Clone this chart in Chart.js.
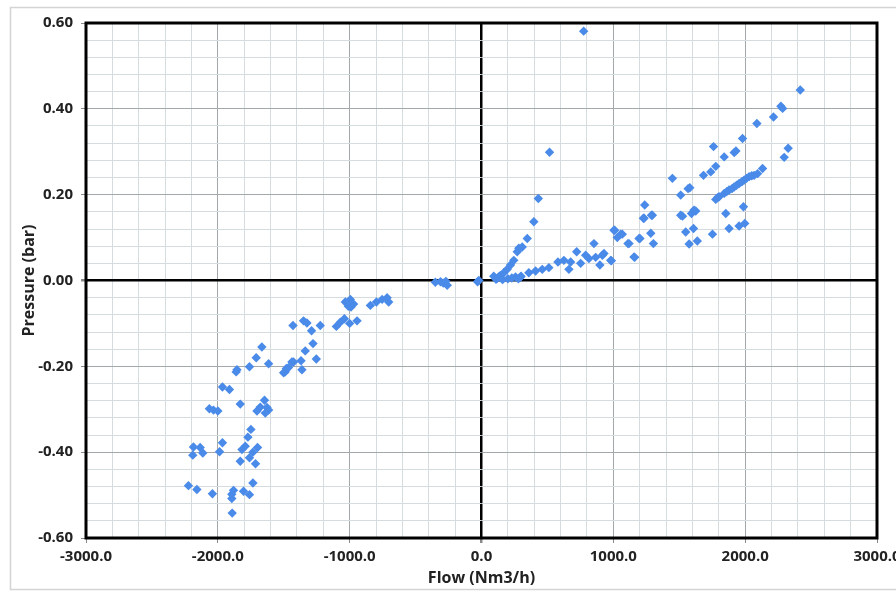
<!DOCTYPE html>
<html><head><meta charset="utf-8">
<script src="https://cdn.jsdelivr.net/npm/chart.js@4/dist/chart.umd.min.js"></script>
<style>html,body{margin:0;padding:0;background:#fff}#wrap{width:896px;height:592px;position:relative}</style>
</head><body><div id="wrap"><canvas id="c" width="896" height="592"></canvas></div>
<script>
// Flow (Nm3/h) values
const flowValues = [
 -1666,-1709,-1615,-1760,-1855,-1861,-1965,-1912,-1830,-1646,-1678,-1627,-1703,-1615,-1640,-2064,-2033,-2000,-1749,-1772,-1965,-1792,-1817,-1699,-1734,-1987,-2185,-2134,-2190,-2114,-1760,-1830,-1714,-1734,-2223,-2159,-2041,-1881,-1894,-1805,-1760,-1894,-1891,
 -1501,-1464,-1426,-1362,-1369,-1337,-1278,-1253,-1430,-1350,-1324,-1289,-1223,-1101,-1071,-1040,-1000,-944,-1033,-995,-970,-990,-843,-797,-754,-716,-704,-1438,-1489,-1480,-1010,-1015,
 -350,-311,-290,-260,-270,-30,-20,
 93,119,144,169,195,220,245,271,283,309,347,397,431,258,296,359,410,461,511,580,625,663,676,722,752,790,815,853,866,898,929,985,1010,1030,1068,1119,1162,1195,1238,1233,1296,1284,1304,516,775,
 110,130,160,200,230,280,300,
 2418,2271,2284,2215,2089,1980,1760,1841,1917,1930,1777,1739,1684,2326,2296,2132,2094,
 1777,1802,1841,1878,1916,1954,1992,2030,2068,1790,1860,1900,1935,1975,2010,2050,
 1448,1511,1567,1580,1612,1625,1593,1511,1525,1228,1289,1853,1987,1608,1549,1575,1637,1752,1878,1954,1997,1202,1005,1056,1111,1157,980,917
];
// Pressure (bar) values
const pressureValues = [
 -0.155,-0.180,-0.194,-0.201,-0.208,-0.213,-0.248,-0.254,-0.288,-0.279,-0.295,-0.296,-0.304,-0.302,-0.309,-0.299,-0.302,-0.304,-0.347,-0.365,-0.378,-0.386,-0.394,-0.389,-0.400,-0.399,-0.388,-0.389,-0.407,-0.402,-0.413,-0.421,-0.427,-0.472,-0.478,-0.487,-0.497,-0.489,-0.498,-0.491,-0.499,-0.508,-0.542,
 -0.215,-0.203,-0.190,-0.208,-0.187,-0.164,-0.147,-0.183,-0.105,-0.094,-0.099,-0.117,-0.105,-0.107,-0.097,-0.089,-0.100,-0.094,-0.050,-0.044,-0.055,-0.062,-0.058,-0.050,-0.044,-0.040,-0.050,-0.190,-0.213,-0.205,-0.060,-0.052,
 -0.004,-0.003,-0.006,-0.011,-0.002,-0.003,0.000,
 0.010,0.005,0.012,0.018,0.026,0.036,0.047,0.067,0.075,0.078,0.098,0.137,0.191,0.008,0.008,0.018,0.022,0.026,0.030,0.043,0.047,0.026,0.043,0.067,0.040,0.059,0.051,0.086,0.054,0.036,0.063,0.046,0.117,0.100,0.108,0.086,0.054,0.098,0.176,0.145,0.152,0.110,0.086,0.299,0.581,
 0.003,0.008,0.002,0.004,0.006,0.004,0.010,
 0.444,0.406,0.401,0.381,0.366,0.331,0.312,0.288,0.298,0.302,0.266,0.253,0.245,0.308,0.287,0.261,0.249,
 0.189,0.195,0.203,0.211,0.218,0.226,0.234,0.242,0.245,0.193,0.207,0.214,0.222,0.230,0.238,0.244,
 0.238,0.199,0.214,0.216,0.164,0.162,0.156,0.152,0.150,0.145,0.152,0.156,0.172,0.121,0.113,0.085,0.092,0.108,0.121,0.127,0.133,0.098,0.117,0.108,0.086,0.055,0.047,0.059
];
const xTickLabels = ['-3000.0','-2000.0','-1000.0','0.0','1000.0','2000.0','3000.0'];
const yTickLabels = ['-0.60','-0.40','-0.20','0.00','0.20','0.40','0.60'];
const xTitle = 'Flow (Nm3/h)';
const yTitle = 'Pressure (bar)';

const points = flowValues.map((x,i)=>({x:x, y:pressureValues[i]}));
const FONT = "'Open Sans', 'Liberation Sans', sans-serif";

function isMajor(v, step){ const r=v/step; return Math.abs(r-Math.round(r))<1e-6; }
function isZero(v){ return Math.abs(v)<1e-9; }

const frame = {
  id:'frame',
  beforeDraw(chart){
    const ctx=chart.ctx; ctx.save();
    ctx.fillStyle='#fff'; ctx.fillRect(0,0,chart.width,chart.height);
    ctx.strokeStyle='#d4d4d4'; ctx.lineWidth=1.5;
    ctx.strokeRect(10.5,7.5,900,582);
    ctx.restore();
  },
  afterDatasetsDraw(chart){
    const a=chart.chartArea, ctx=chart.ctx; ctx.save();
    ctx.strokeStyle='#000'; ctx.lineWidth=3;
    ctx.strokeRect(a.left,a.top,a.right-a.left,a.bottom-a.top);
    ctx.restore();
  }
};

new Chart(document.getElementById('c'), {
  type:'scatter',
  data:{datasets:[{data:points, pointStyle:'rectRot', pointRadius:4.7, pointHoverRadius:4.7,
    backgroundColor:'#4a8ae8', borderColor:'#4a8ae8', borderWidth:0}]},
  options:{
    responsive:false, animation:false, devicePixelRatio:1,
    layout:{padding:{left:0,top:23,right:19,bottom:0}},
    plugins:{legend:{display:false}, tooltip:{enabled:false}},
    scales:{
      x:{type:'linear', min:-3000, max:3000,
        afterFit(s){ s.height=54; s.paddingLeft=0; s.paddingRight=0; },
        ticks:{stepSize:200, autoSkip:false, maxRotation:0, minRotation:0, padding:5, color:'#222',
          font:{family:FONT, size:15, weight:'bold'},
          callback(v){ if(!isMajor(v,1000)) return ''; const i=Math.round(v/1000)+3; return xTickLabels[i]; }},
        grid:{drawTicks:true, tickLength:5,
          color(c){ const v=c.tick.value; if(isZero(v)) return '#000'; return isMajor(v,1000)?'#a3a8aa':'#d5dcdf'; },
          lineWidth(c){ return isZero(c.tick.value)?2.5:1; },
          tickColor(c){ return isMajor(c.tick.value,1000)?'#8a8a8a':'rgba(0,0,0,0)'; }},
        border:{display:false},
        title:{display:true, text:xTitle, color:'#222', font:{family:FONT, size:16, weight:'bold'}, padding:{top:4,bottom:4}}
      },
      y:{type:'linear', min:-0.6, max:0.6,
        afterFit(s){ s.width=86; s.paddingTop=0; s.paddingBottom=0; },
        ticks:{stepSize:0.04, autoSkip:false, padding:8, color:'#222',
          font:{family:FONT, size:15, weight:'bold'},
          callback(v){ if(!isMajor(v,0.2)) return ''; const i=Math.round(v/0.2)+3; return yTickLabels[i]; }},
        grid:{drawTicks:true, tickLength:5,
          color(c){ const v=c.tick.value; if(isZero(v)) return '#000'; return isMajor(v,0.2)?'#a3a8aa':'#d5dcdf'; },
          lineWidth(c){ return isZero(c.tick.value)?2.5:1; },
          tickColor(c){ return isMajor(c.tick.value,0.2)?'#8a8a8a':'rgba(0,0,0,0)'; }},
        border:{display:false},
        title:{display:true, text:yTitle, color:'#222', font:{family:FONT, size:16, weight:'bold'}, padding:{top:20,bottom:20}}
      }
    }
  },
  plugins:[frame]
});
</script></body></html>
